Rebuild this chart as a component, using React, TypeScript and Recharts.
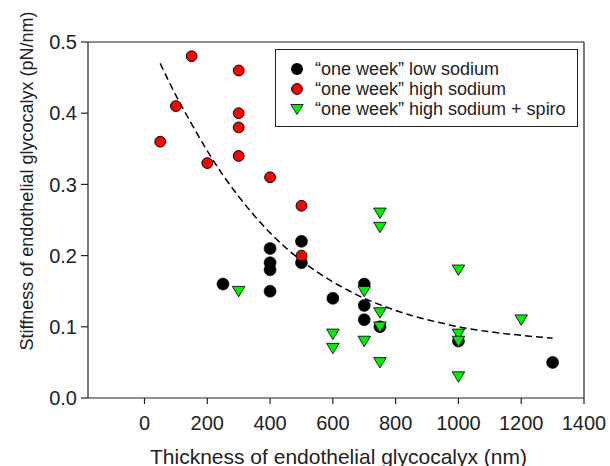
import React from "react";
import {
  ScatterChart,
  Scatter,
  XAxis,
  YAxis,
  ReferenceLine,
  Legend,
} from "recharts";

// ---- data ----
const lowSodiumX = [250, 400, 400, 400, 400, 500, 500, 600, 700, 700, 700, 750, 1000, 1300];
const lowSodiumY = [0.16, 0.21, 0.19, 0.18, 0.15, 0.22, 0.19, 0.14, 0.16, 0.13, 0.11, 0.1, 0.08, 0.05];

const highSodiumX = [50, 100, 150, 200, 300, 300, 300, 300, 400, 500, 500];
const highSodiumY = [0.36, 0.41, 0.48, 0.33, 0.46, 0.4, 0.38, 0.34, 0.31, 0.27, 0.2];

const spiroX = [300, 600, 600, 700, 700, 750, 750, 750, 750, 750, 1000, 1000, 1000, 1000, 1200];
const spiroY = [0.15, 0.09, 0.07, 0.15, 0.08, 0.26, 0.24, 0.12, 0.1, 0.05, 0.18, 0.09, 0.08, 0.03, 0.11];

const fitX = [50, 100, 150, 200, 250, 300, 350, 400, 450, 500, 550, 600, 650, 700, 750, 800, 850, 900, 950, 1000, 1100, 1200, 1300];
const fitY = [0.47, 0.425, 0.385, 0.347, 0.313, 0.283, 0.256, 0.232, 0.211, 0.193, 0.177, 0.163, 0.151, 0.14, 0.131, 0.123, 0.116, 0.11, 0.105, 0.1, 0.093, 0.088, 0.084];

const xTicks = [0, 200, 400, 600, 800, 1000, 1200, 1400];
const yTicks = [0, 0.1, 0.2, 0.3, 0.4, 0.5];

const seriesNames = [
  "\u201cone week\u201d low sodium",
  "\u201cone week\u201d high sodium",
  "\u201cone week\u201d high sodium + spiro",
];

const zip = (xs: number[], ys: number[]) => xs.map((x, i) => ({ x, y: ys[i] }));
const lowData = zip(lowSodiumX, lowSodiumY);
const highData = zip(highSodiumX, highSodiumY);
const spiroData = zip(spiroX, spiroY);
const fitData = zip(fitX, fitY);

const FONT = '"Liberation Sans", Arial, Helvetica, sans-serif';
const INK = "#222";
const GREEN = "#00ee00";
const RED = "#ff0000";

const BlackDot = (p: any) =>
  p.cx == null ? <g /> : <circle cx={p.cx} cy={p.cy} r={6} fill="#000" stroke="#000" strokeWidth={0.6} />;
const RedDot = (p: any) =>
  p.cx == null ? <g /> : <circle cx={p.cx} cy={p.cy} r={5.4} fill={RED} stroke="#000" strokeWidth={1} />;
const GreenTri = (p: any) => {
  if (p.cx == null) return <g />;
  const { cx, cy } = p;
  const pts = `${cx - 6.3},${cy - 4.8} ${cx + 6.3},${cy - 4.8} ${cx},${cy + 5.6}`;
  return <polygon points={pts} fill={GREEN} stroke="#111" strokeWidth={0.9} strokeLinejoin="miter" />;
};
const NoDot = () => <g />;

const LegendMarker = ({ kind }: { kind: number }) => (
  <svg width={14} height={14} style={{ display: "block" }}>
    {kind === 0 && <circle cx={7} cy={7} r={6} fill="#000" />}
    {kind === 1 && <circle cx={7} cy={7} r={5.4} fill={RED} stroke="#000" strokeWidth={1} />}
    {kind === 2 && (
      <polygon points="0.8,2.5 13.2,2.5 7,12.5" fill={GREEN} stroke="#111" strokeWidth={0.9} />
    )}
  </svg>
);

const LegendBox = () => (
  <div
    style={{
      boxSizing: "border-box",
      width: 303,
      height: 78,
      border: `1.3px solid ${INK}`,
      background: "#fff",
      paddingTop: 9,
      fontFamily: FONT,
      fontSize: 18,
      color: INK,
    }}
  >
    {seriesNames.map((n, i) => (
      <div key={n} style={{ display: "flex", alignItems: "center", height: 20, whiteSpace: "nowrap" }}>
        <div style={{ width: 14, marginLeft: 14, marginRight: 11 }}>
          <LegendMarker kind={i} />
        </div>
        <span style={{ lineHeight: "20px" }}>{n}</span>
      </div>
    ))}
  </div>
);

export default function App() {
  return (
    <div style={{ position: "absolute", left: 0, top: 0, width: 610, height: 466, background: "#fff" }}>
      <ScatterChart width={610} height={466} margin={{ top: 42, right: 26, bottom: 0, left: 0 }}>
        <XAxis
          type="number"
          dataKey="x"
          domain={[-180, 1400]}
          ticks={xTicks}
          allowDataOverflow
          height={68}
          stroke={INK}
          strokeWidth={1.2}
          tickSize={6}
          tickMargin={12}
          tick={{ fontSize: 20, fill: INK, fontFamily: FONT }}
          label={{
            content: (props: any) => {
              const vb = props.viewBox || { x: 88, y: 398, width: 496 };
              return (
                <text
                  x={vb.x + vb.width / 2 + 2.5}
                  y={464}
                  textAnchor="middle"
                  fontSize={21}
                  fontFamily={FONT}
                  fill={INK}
                >
                  Thickness of endothelial glycocalyx (nm)
                </text>
              );
            },
          }}
        />
        <YAxis
          type="number"
          dataKey="y"
          domain={[0, 0.5]}
          ticks={yTicks}
          allowDataOverflow
          width={88}
          stroke={INK}
          strokeWidth={1.2}
          tickSize={7}
          tickMargin={4}
          tickFormatter={(v: number) => v.toFixed(1)}
          tick={{ fontSize: 20, fill: INK, fontFamily: FONT }}
          label={{
            content: () => (
              <text
                x={32.5}
                y={181}
                transform="rotate(-90 32.5 181)"
                textAnchor="middle"
                fontSize={18}
                fontFamily={FONT}
                fill={INK}
              >
                Stiffness of endothelial glycocalyx (pN/nm)
              </text>
            ),
          }}
        />
        <ReferenceLine y={0.5} stroke={INK} strokeWidth={1.2} />
        <ReferenceLine x={1400} stroke={INK} strokeWidth={1.2} />
        <Scatter
          data={fitData}
          line={{ stroke: "#000", strokeWidth: 1.5, strokeDasharray: "7 4" }}
          lineJointType="monotoneX"
          shape={NoDot}
          legendType="none"
          isAnimationActive={false}
        />
        <Scatter name={seriesNames[0]} data={lowData} shape={BlackDot} isAnimationActive={false} />
        <Scatter name={seriesNames[1]} data={highData} shape={RedDot} isAnimationActive={false} />
        <Scatter name={seriesNames[2]} data={spiroData} shape={GreenTri} isAnimationActive={false} />
        <Legend
          layout="vertical"
          align="center"
          verticalAlign="middle"
          content={() => <LegendBox />}
          wrapperStyle={{ position: "absolute", top: 49, left: 275, width: 303, height: 78 }}
        />
      </ScatterChart>
    </div>
  );
}
